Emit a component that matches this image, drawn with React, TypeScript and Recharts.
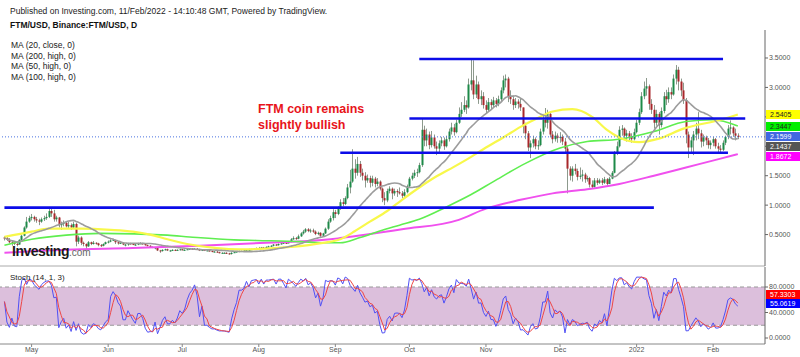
import React from "react";
import { ComposedChart, Bar, Line, XAxis, YAxis, ReferenceLine, ReferenceArea } from "recharts";

// day 0 = 1 May 2021, first candle is 20 Apr 2021
const START_DAY = -11;
const FIRST_OPEN = 0.45;

const aprClose = [0.44, 0.41, 0.37, 0.36, 0.34, 0.33, 0.41, 0.48, 0.62, 0.72, 0.78];
const aprHigh = [0.47, 0.46, 0.44, 0.39, 0.38, 0.36, 0.42, 0.5, 0.64, 0.8, 0.82];
const aprLow = [0.4, 0.39, 0.35, 0.31, 0.32, 0.3, 0.33, 0.4, 0.47, 0.6, 0.7];

const mayClose = [0.8, 0.76, 0.74, 0.72, 0.76, 0.78, 0.8, 0.9, 0.86, 0.76, 0.79, 0.66, 0.68, 0.7, 0.64, 0.66, 0.62, 0.68, 0.38, 0.45, 0.36, 0.34, 0.3, 0.37, 0.34, 0.36, 0.35, 0.32, 0.31, 0.34, 0.37];
const mayHigh = [0.85, 0.82, 0.8, 0.77, 0.79, 0.82, 0.86, 0.97, 0.96, 0.92, 0.82, 0.8, 0.72, 0.74, 0.72, 0.72, 0.69, 0.72, 0.7, 0.48, 0.47, 0.38, 0.35, 0.39, 0.38, 0.39, 0.37, 0.36, 0.34, 0.35, 0.38];
const mayLow = [0.74, 0.72, 0.7, 0.66, 0.7, 0.73, 0.75, 0.78, 0.8, 0.72, 0.72, 0.62, 0.58, 0.64, 0.62, 0.6, 0.58, 0.6, 0.3, 0.34, 0.32, 0.3, 0.25, 0.29, 0.32, 0.33, 0.33, 0.3, 0.29, 0.3, 0.33];

const junClose = [0.38, 0.4, 0.41, 0.37, 0.35, 0.36, 0.33, 0.33, 0.35, 0.34, 0.33, 0.33, 0.35, 0.35, 0.34, 0.32, 0.31, 0.29, 0.28, 0.28, 0.23, 0.22, 0.24, 0.25, 0.23, 0.23, 0.24, 0.23, 0.24, 0.25];
const junHigh = [0.4, 0.42, 0.43, 0.41, 0.38, 0.37, 0.37, 0.34, 0.36, 0.36, 0.35, 0.34, 0.36, 0.37, 0.36, 0.35, 0.33, 0.32, 0.3, 0.29, 0.29, 0.24, 0.25, 0.26, 0.26, 0.24, 0.25, 0.25, 0.25, 0.26];
const junLow = [0.35, 0.37, 0.39, 0.34, 0.33, 0.34, 0.32, 0.3, 0.31, 0.33, 0.32, 0.31, 0.32, 0.34, 0.33, 0.31, 0.3, 0.28, 0.27, 0.25, 0.22, 0.19, 0.21, 0.23, 0.22, 0.21, 0.22, 0.22, 0.23, 0.23];

const julClose = [0.24, 0.24, 0.25, 0.26, 0.25, 0.26, 0.25, 0.23, 0.24, 0.23, 0.23, 0.22, 0.21, 0.21, 0.2, 0.19, 0.19, 0.19, 0.18, 0.17, 0.19, 0.2, 0.21, 0.22, 0.22, 0.23, 0.24, 0.24, 0.25, 0.26, 0.27];
const julHigh = [0.26, 0.25, 0.26, 0.27, 0.27, 0.27, 0.27, 0.26, 0.25, 0.25, 0.24, 0.24, 0.23, 0.22, 0.22, 0.21, 0.2, 0.2, 0.2, 0.19, 0.2, 0.21, 0.22, 0.23, 0.23, 0.25, 0.25, 0.26, 0.26, 0.27, 0.28];
const julLow = [0.23, 0.23, 0.24, 0.24, 0.24, 0.25, 0.24, 0.22, 0.22, 0.22, 0.22, 0.21, 0.2, 0.2, 0.19, 0.18, 0.18, 0.18, 0.17, 0.16, 0.16, 0.19, 0.2, 0.2, 0.21, 0.21, 0.22, 0.23, 0.24, 0.24, 0.26];

const augClose = [0.27, 0.28, 0.27, 0.29, 0.3, 0.31, 0.33, 0.32, 0.34, 0.35, 0.36, 0.35, 0.38, 0.42, 0.44, 0.43, 0.47, 0.52, 0.55, 0.59, 0.56, 0.57, 0.55, 0.51, 0.53, 0.48, 0.52, 0.6, 0.72, 0.78, 0.88];
const augHigh = [0.29, 0.29, 0.29, 0.3, 0.31, 0.32, 0.34, 0.34, 0.35, 0.36, 0.38, 0.37, 0.39, 0.44, 0.47, 0.46, 0.5, 0.54, 0.58, 0.61, 0.61, 0.6, 0.6, 0.57, 0.55, 0.54, 0.53, 0.62, 0.76, 0.82, 0.93];
const augLow = [0.26, 0.26, 0.26, 0.27, 0.28, 0.29, 0.3, 0.31, 0.31, 0.33, 0.34, 0.34, 0.35, 0.37, 0.41, 0.41, 0.42, 0.46, 0.5, 0.53, 0.54, 0.53, 0.53, 0.49, 0.49, 0.46, 0.46, 0.51, 0.58, 0.7, 0.74];

const sepClose = [0.85, 0.95, 1.05, 1.02, 1.12, 1.3, 1.4, 1.62, 1.55, 1.7, 1.55, 1.5, 1.42, 1.46, 1.38, 1.45, 1.36, 1.4, 1.28, 1.12, 1.08, 1.24, 1.28, 1.2, 1.24, 1.22, 1.2, 1.16, 1.22, 1.32];
const sepHigh = [0.92, 0.98, 1.1, 1.12, 1.15, 1.36, 1.6, 1.95, 1.78, 1.82, 1.75, 1.62, 1.56, 1.52, 1.5, 1.5, 1.48, 1.46, 1.42, 1.3, 1.22, 1.28, 1.32, 1.3, 1.28, 1.27, 1.3, 1.24, 1.27, 1.35];
const sepLow = [0.78, 0.83, 0.92, 0.98, 1.0, 1.1, 1.2, 1.38, 1.45, 1.5, 1.48, 1.42, 1.3, 1.38, 1.3, 1.32, 1.3, 1.32, 1.25, 1.05, 1.0, 1.05, 1.2, 1.1, 1.16, 1.14, 1.18, 1.12, 1.14, 1.2];

const octClose = [1.45, 1.5, 1.55, 1.56, 1.68, 2.28, 2.1, 2.2, 2.02, 2.15, 2.0, 1.96, 2.05, 2.1, 2.0, 2.12, 2.25, 2.32, 2.24, 2.4, 2.55, 2.62, 2.7, 2.66, 3.05, 3.12, 2.88, 3.05, 2.8, 2.85, 2.7];
const octHigh = [1.48, 1.55, 1.6, 1.62, 1.72, 2.48, 2.35, 2.3, 2.25, 2.26, 2.2, 2.08, 2.1, 2.16, 2.15, 2.18, 2.3, 2.4, 2.38, 2.45, 2.66, 2.75, 2.85, 2.78, 3.15, 3.48, 3.46, 3.2, 3.1, 2.95, 2.92];
const octLow = [1.3, 1.42, 1.46, 1.48, 1.54, 1.65, 2.0, 2.0, 1.95, 1.98, 1.96, 1.85, 1.9, 2.0, 1.94, 1.98, 2.08, 2.2, 2.18, 2.22, 2.38, 2.5, 2.58, 2.55, 2.64, 2.95, 2.8, 2.82, 2.72, 2.7, 2.64];

const novClose = [2.62, 2.75, 2.7, 2.78, 2.72, 2.8, 2.95, 3.12, 3.15, 2.85, 2.8, 2.7, 2.76, 2.72, 2.66, 2.35, 2.22, 1.98, 2.05, 2.12, 2.0, 2.02, 2.25, 2.45, 2.4, 2.55, 2.2, 2.12, 2.18, 2.14];
const novHigh = [2.78, 2.82, 2.8, 2.84, 2.82, 2.86, 3.0, 3.2, 3.22, 3.18, 2.95, 2.86, 2.82, 2.8, 2.82, 2.66, 2.4, 2.26, 2.1, 2.18, 2.15, 2.1, 2.3, 2.55, 2.65, 2.62, 2.58, 2.26, 2.25, 2.22];
const novLow = [2.55, 2.58, 2.62, 2.65, 2.66, 2.68, 2.76, 2.9, 3.0, 2.75, 2.72, 2.62, 2.65, 2.64, 2.6, 2.22, 2.12, 1.92, 1.8, 1.98, 1.95, 1.94, 2.0, 2.2, 2.32, 2.3, 2.15, 2.05, 2.08, 2.06];

const decClose = [2.16, 2.08, 1.96, 1.62, 1.5, 1.62, 1.58, 1.48, 1.5, 1.52, 1.44, 1.46, 1.35, 1.31, 1.42, 1.38, 1.42, 1.38, 1.44, 1.36, 1.45, 1.55, 1.88, 2.0, 2.28, 2.3, 2.18, 2.22, 2.16, 2.12, 2.24];
const decHigh = [2.24, 2.2, 2.14, 2.0, 1.66, 1.66, 1.7, 1.62, 1.64, 1.6, 1.55, 1.5, 1.48, 1.42, 1.46, 1.46, 1.45, 1.46, 1.48, 1.46, 1.48, 1.58, 1.92, 2.08, 2.34, 2.36, 2.32, 2.28, 2.26, 2.22, 2.3];
const decLow = [2.06, 2.02, 1.9, 1.2, 1.42, 1.4, 1.52, 1.42, 1.44, 1.4, 1.38, 1.4, 1.3, 1.28, 1.3, 1.34, 1.36, 1.34, 1.36, 1.32, 1.36, 1.44, 1.54, 1.85, 1.98, 2.18, 2.12, 2.08, 2.08, 2.06, 2.1];

const janClose = [2.4, 2.58, 2.85, 2.98, 3.02, 2.72, 2.62, 2.4, 2.55, 2.36, 2.6, 2.85, 2.8, 2.92, 2.88, 3.15, 3.3, 3.1, 2.95, 2.78, 2.2, 1.98, 2.1, 2.2, 2.3, 2.22, 2.08, 2.15, 2.1, 2.02, 2.06];
const janHigh = [2.45, 2.64, 2.92, 3.1, 3.16, 3.05, 2.8, 2.7, 2.62, 2.58, 2.66, 2.92, 2.96, 3.0, 3.0, 3.22, 3.38, 3.35, 3.15, 3.08, 2.82, 2.25, 2.16, 2.26, 2.4, 2.58, 2.28, 2.2, 2.18, 2.14, 2.1];
const janLow = [2.22, 2.36, 2.55, 2.8, 2.86, 2.62, 2.55, 2.3, 2.35, 2.2, 2.32, 2.56, 2.7, 2.74, 2.8, 2.86, 3.05, 2.95, 2.85, 2.72, 2.05, 1.8, 1.9, 1.85, 2.1, 2.12, 1.98, 2.0, 2.02, 1.96, 1.95];

const febClose = [2.12, 2.0, 1.96, 1.94, 2.06, 2.16, 2.3, 2.32, 2.22, 2.18, 2.1599];
const febHigh = [2.16, 2.14, 2.06, 2.02, 2.1, 2.18, 2.36, 2.44, 2.34, 2.3, 2.22];
const febLow = [2.0, 1.96, 1.9, 1.88, 1.92, 2.02, 2.12, 2.2, 2.16, 2.1, 2.12];

// moving averages of the highs as [day, value]
const ma50High = [[-11, 0.46], [0, 0.55], [7, 0.6], [20, 0.6], [32, 0.58], [41, 0.55], [48, 0.5], [55, 0.42], [63, 0.34], [75, 0.27], [84, 0.25], [95, 0.26], [105, 0.29], [118, 0.36], [125, 0.42], [131, 0.56], [137, 0.72], [144, 0.9], [150, 1.09], [157, 1.3], [164, 1.49], [171, 1.65], [178, 1.82], [184, 1.98], [191, 2.15], [198, 2.33], [205, 2.48], [211, 2.59], [219, 2.63], [227, 2.5], [233, 2.28], [238, 2.15], [246, 2.07], [254, 2.13], [264, 2.3], [279, 2.45], [286, 2.5405]];
const ma100High = [[-11, 0.32], [0, 0.42], [14, 0.49], [28, 0.52], [55, 0.49], [64, 0.46], [82, 0.41], [91, 0.4], [109, 0.38], [118, 0.36], [125, 0.36], [133, 0.45], [141, 0.56], [149, 0.66], [157, 0.76], [168, 0.97], [178, 1.18], [187, 1.4], [200, 1.71], [214, 1.97], [225, 2.08], [238, 2.12], [252, 2.25], [265, 2.42], [276, 2.45], [286, 2.3447]];
const ma200High = [[-11, 0.19], [14, 0.24], [41, 0.27], [68, 0.31], [95, 0.36], [121, 0.42], [125, 0.44], [150, 0.59], [173, 0.75], [184, 0.94], [198, 1.09], [211, 1.2], [225, 1.27], [238, 1.36], [252, 1.5], [265, 1.64], [279, 1.79], [286, 1.8672]];

// hand-drawn support / resistance lines: [from day, to day, price]
const levels = [[157, 280, 3.483], [153, 289, 2.472], [125, 282, 1.891], [-11, 252, 0.957]];

const monthTicks = [0, 31, 61, 92, 123, 153, 184, 214, 245, 276];
const monthNames = ["May", "Jun", "Jul", "Aug", "Sep", "Oct", "Nov", "Dec", "2022", "Feb"];
const priceTicks = [0, 0.5, 1, 1.5, 2, 2.5, 3, 3.5];
const hiddenPriceTicks = [2.5]; // covered by the MA tag in the original
const stochTicks = [0, 40, 80];

const maLegend = ["MA (20, close, 0)", "MA (200, high, 0)", "MA (50, high, 0)", "MA (100, high, 0)"];

const closes = [...aprClose, ...mayClose, ...junClose, ...julClose, ...augClose, ...sepClose, ...octClose, ...novClose, ...decClose, ...janClose, ...febClose];
const highs = [...aprHigh, ...mayHigh, ...junHigh, ...julHigh, ...augHigh, ...sepHigh, ...octHigh, ...novHigh, ...decHigh, ...janHigh, ...febHigh];
const lows = [...aprLow, ...mayLow, ...junLow, ...julLow, ...augLow, ...sepLow, ...octLow, ...novLow, ...decLow, ...janLow, ...febLow];

const avg = (a: number[]) => a.reduce((s, v) => s + v, 0) / a.length;

const rows: any[] = closes.map((close, i) => {
  const open = i === 0 ? FIRST_OPEN : closes[i - 1];
  const high = Math.max(highs[i], open, close);
  const low = Math.min(lows[i], open, close);
  return { d: START_DAY + i, open, close, high, low, range: [low, high] };
});

rows.forEach((r, i) => {
  r.ma20 = avg(closes.slice(Math.max(0, i - 19), i + 1));
  const win = rows.slice(Math.max(0, i - 13), i + 1);
  const hh = Math.max(...win.map((x) => x.high));
  const ll = Math.min(...win.map((x) => x.low));
  r.k = hh === ll ? 50 : ((r.close - ll) / (hh - ll)) * 100;
});
rows.forEach((r, i) => {
  r.kd = avg(rows.slice(Math.max(0, i - 2), i + 1).map((x) => x.k));
});

const toPts = (a: number[][]) => a.map(([d, v]) => ({ d, v }));

const UP = "#1d8a48";
const DOWN = "#a8272b";
const WICK = "#8d9a8d";
const FONT = "'Liberation Sans', Arial, sans-serif";
const X_DOMAIN = [-12.8, 297];

const Candle = (props: any) => {
  const { x, y, width, height, payload } = props;
  if (!payload || height == null) return null;
  const { open, close, high, low } = payload;
  const cx = Math.round(x + width / 2);
  const span = high - low || 1;
  const py = (v: number) => y + ((high - v) / span) * height;
  const top = py(Math.max(open, close));
  const bot = py(Math.min(open, close));
  return (
    <g>
      <line x1={cx + 0.5} x2={cx + 0.5} y1={y} y2={y + height} stroke={WICK} strokeWidth={1} />
      <rect x={cx - 0.5} y={top} width={2} height={Math.max(1, bot - top)} fill={close >= open ? UP : DOWN} />
    </g>
  );
};

const axisTick = { fontSize: 7, fill: "#555", fontFamily: FONT };

const Tag = ({ top, bg, color, text }: any) => (
  <div style={{ position: "absolute", left: 766, top, width: 34, height: 9, background: bg, color, fontSize: 7, lineHeight: "9px", paddingLeft: 4, boxSizing: "border-box", fontFamily: FONT }}>{text}</div>
);

export default function App() {
  return (
    <div style={{ position: "absolute", left: 0, top: 0, width: 800, height: 357, background: "#fff", overflow: "hidden", fontFamily: FONT }}>
      <div style={{ position: "absolute", left: 0, top: 30 }}>
        <ComposedChart width={800} height={237} data={rows} margin={{ top: 0, right: 0, bottom: 0, left: 0 }}>
          <XAxis dataKey="d" type="number" domain={X_DOMAIN} allowDataOverflow tick={false} tickLine={false} height={1} axisLine={{ stroke: "#aaa" }} />
          <YAxis orientation="right" width={35} type="number" domain={[-0.034, 3.9755]} allowDataOverflow ticks={priceTicks} tickFormatter={(v: number) => (hiddenPriceTicks.includes(v) ? "" : v.toFixed(4))} tick={axisTick} tickSize={3} tickMargin={1} axisLine={{ stroke: "#666" }} tickLine={{ stroke: "#666" }} />
          <Bar dataKey="range" barSize={2} shape={<Candle />} isAnimationActive={false} />
          <Line data={toPts(ma200High)} dataKey="v" type="monotone" stroke="#f050ee" strokeWidth={2} dot={false} isAnimationActive={false} />
          <Line data={toPts(ma100High)} dataKey="v" type="monotone" stroke="#5fee50" strokeWidth={1.6} dot={false} isAnimationActive={false} />
          <Line data={toPts(ma50High)} dataKey="v" type="monotone" stroke="#f8f84a" strokeWidth={2.2} dot={false} isAnimationActive={false} />
          <Line dataKey="ma20" type="monotone" stroke="#9c9c9c" strokeWidth={1.6} dot={false} isAnimationActive={false} />
          <ReferenceLine y={2.1599} stroke="#4a72e0" strokeDasharray="1 2" strokeWidth={1} />
          {levels.map(([a, b, p], i) => (
            <ReferenceLine key={i} segment={[{ x: a, y: p }, { x: b, y: p }]} stroke="#0c0ce8" strokeWidth={2.6} />
          ))}
        </ComposedChart>
      </div>

      <div style={{ position: "absolute", left: 0, top: 267 }}>
        <ComposedChart width={800} height={90} data={rows} margin={{ top: 0, right: 0, bottom: 0, left: 0 }}>
          <XAxis dataKey="d" type="number" domain={X_DOMAIN} allowDataOverflow ticks={monthTicks} tickFormatter={(v: number) => monthNames[monthTicks.indexOf(v)] ?? ""} tick={axisTick} tickSize={3} tickMargin={0} height={13} axisLine={{ stroke: "#888" }} tickLine={{ stroke: "#888" }} interval={0} />
          <YAxis orientation="right" width={35} type="number" domain={[-9.4, 111.4]} allowDataOverflow ticks={stochTicks} tickFormatter={(v: number) => v.toFixed(4)} tick={axisTick} tickSize={3} tickMargin={1} axisLine={{ stroke: "#666" }} tickLine={{ stroke: "#666" }} />
          <ReferenceArea y1={20} y2={80} fill="#dcbfdc" fillOpacity={1} stroke="none" />
          <ReferenceLine y={80} stroke="#999" strokeDasharray="4 3" />
          <ReferenceLine y={20} stroke="#999" strokeDasharray="4 3" />
          <Line dataKey="k" type="linear" stroke="#5050f5" strokeWidth={1} dot={false} isAnimationActive={false} />
          <Line dataKey="kd" type="linear" stroke="#ee4646" strokeWidth={1} dot={false} isAnimationActive={false} />
        </ComposedChart>
      </div>

      <div style={{ position: "absolute", left: 10, top: 6, fontSize: 8.5, lineHeight: "10px", color: "#222", whiteSpace: "nowrap" }}>
        Published on Investing.com, 11/Feb/2022 - 14:10:48 GMT, Powered by TradingView.
      </div>
      <div style={{ position: "absolute", left: 10, top: 20, fontSize: 8.5, lineHeight: "10px", color: "#111", fontWeight: "bold", whiteSpace: "nowrap" }}>
        FTM/USD, Binance:FTM/USD, D
      </div>
      {maLegend.map((t, i) => (
        <div key={t} style={{ position: "absolute", left: 11, top: 40 + i * 10.6, fontSize: 8.5, lineHeight: "10px", color: "#222", whiteSpace: "nowrap" }}>{t}</div>
      ))}
      <div style={{ position: "absolute", left: 258, top: 102, fontSize: 12.5, lineHeight: "15.5px", color: "#e8141b", fontWeight: "bold", whiteSpace: "nowrap" }}>
        FTM coin remains<br />slightly bullish
      </div>
      <div style={{ position: "absolute", left: 12, top: 243, whiteSpace: "nowrap", lineHeight: "16px" }}>
        <span style={{ fontSize: 14, fontWeight: "bold", color: "#1a1a1a", letterSpacing: -0.5 }}>Investing</span>
        <span style={{ fontSize: 10, color: "#666" }}>.com</span>
      </div>
      <div style={{ position: "absolute", left: 10, top: 273, fontSize: 8, lineHeight: "10px", color: "#222", whiteSpace: "nowrap" }}>Stoch (14, 1, 3)</div>

      <Tag top={110} bg="#ffff00" color="#222" text="2.5405" />
      <Tag top={121.5} bg="#00ee00" color="#222" text="2.3447" />
      <Tag top={132.3} bg="#4169e1" color="#fff" text="2.1599" />
      <Tag top={142.2} bg="#555" color="#fff" text="2.1437" />
      <Tag top={152.2} bg="#ff00ff" color="#fff" text="1.8672" />
      <Tag top={289.5} bg="#ff0000" color="#fff" text="57.3303" />
      <Tag top={299.3} bg="#0000ff" color="#fff" text="55.0619" />
    </div>
  );
}
